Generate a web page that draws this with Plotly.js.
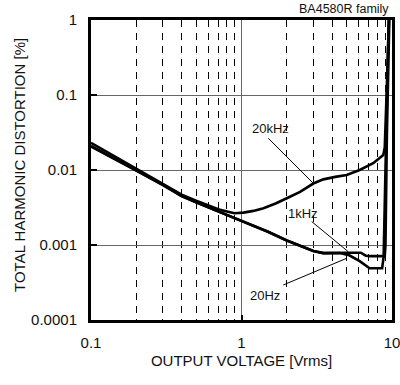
<!DOCTYPE html>
<html>
<head>
<meta charset="utf-8">
<script src="https://cdn.plot.ly/plotly-3.0.1.min.js"></script>
<style>html,body{margin:0;padding:0;background:#fff}#chart{width:400px;height:385px}</style>
</head>
<body>
<div id="chart"></div>
<script>
// Output voltage [Vrms] and THD [%]
const x20k = [0.1, 0.15, 0.2, 0.3, 0.4, 0.5, 0.7, 0.8, 0.9, 1.03, 1.2, 1.4, 1.7, 2.0, 2.45, 3.0, 3.5, 4.2, 5.0, 6.1, 7.5, 8.75, 8.95, 9.2, 9.55];
const y20k = [0.023, 0.0145, 0.0103, 0.0066, 0.0047, 0.0039, 0.0030, 0.0028, 0.00265, 0.0027, 0.00285, 0.0031, 0.0036, 0.0042, 0.0051, 0.0066, 0.0075, 0.0081, 0.0086, 0.010, 0.0123, 0.0158, 0.02, 0.1, 1];

const x1k = [0.1, 0.15, 0.2, 0.3, 0.4, 0.5, 0.7, 1.0, 1.5, 2.0, 2.5, 3.0, 3.5, 4.2, 5.0, 6.2, 6.7, 7.2, 8.95, 9.05, 9.25, 9.6];
const y1k = [0.021, 0.0137, 0.0099, 0.0064, 0.0045, 0.0037, 0.0028, 0.0021, 0.0015, 0.00115, 0.00095, 0.00083, 0.00078, 0.00079, 0.00079, 0.00079, 0.00072, 0.00071, 0.00071, 0.001, 0.03, 1];

const x20 = [0.1, 0.15, 0.2, 0.3, 0.4, 0.5, 0.7, 1.0, 1.5, 2.0, 2.5, 3.0, 3.5, 4.5, 5.2, 6.1, 7.1, 8.6, 8.8, 9.1, 9.5];
const y20 = [0.0205, 0.0135, 0.0098, 0.0063, 0.0045, 0.0037, 0.0028, 0.0021, 0.0015, 0.00115, 0.00095, 0.00083, 0.00078, 0.00078, 0.00073, 0.00061, 0.00049, 0.00049, 0.0007, 0.02, 1];

// leader lines for labels
const lead20kX = [1.507, 3.0], lead20kY = [0.0265, 0.00665];
const lead1kX = [2.93, 5.12], lead1kY = [0.00205, 0.000814];
const lead20X = [1.895, 5.0], lead20Y = [0.000293, 0.000665];

const labelText = ["20kHz", "1kHz", "20Hz"];
const labelX = [1.566, 2.56, 1.432];
const labelY = [0.0363, 0.00267, 0.000215];

const xTickVals = [0.1, 1, 10];
const xTickText = ["0.1", "1", "10"];
const yTickVals = [0.0001, 0.001, 0.01, 0.1, 1];
const yTickText = ["0.0001", "0.001", "0.01", "0.1", "1"];
const xMinorVals = [0.2, 0.3, 0.4, 0.5, 0.6, 0.7, 0.8, 0.9, 2, 3, 4, 5, 6, 7, 8, 9];

const FONT = "Liberation Sans, Arial, sans-serif";
const curve = (x, y, name) => ({x, y, name, type: "scatter", mode: "lines",
  line: {color: "#000", width: 2.6}, hoverinfo: "skip", showlegend: false});
const lead = (x, y) => ({x, y, type: "scatter", mode: "lines",
  line: {color: "#000", width: 1}, hoverinfo: "skip", showlegend: false});

const data = [
  curve(x20, y20, "20Hz"), curve(x1k, y1k, "1kHz"), curve(x20k, y20k, "20kHz"),
  lead(lead20kX, lead20kY), lead(lead1kX, lead1kY), lead(lead20X, lead20Y)
];

const annotations = labelText.map((t, i) => ({
  text: t, x: Math.log10(labelX[i]), y: Math.log10(labelY[i]), xref: "x", yref: "y",
  showarrow: false, font: {family: FONT, size: 13, color: "#111"}
}));
annotations.push({text: "BA4580R family", xref: "paper", yref: "paper",
  x: 0.9934, y: 1.0383, xanchor: "right", yanchor: "middle", borderpad: 0, showarrow: false,
  font: {family: FONT, size: 12.5, color: "#111"}});
annotations.push({text: "TOTAL HARMONIC DISTORTION [%]", xref: "paper", yref: "paper",
  x: -0.2359, y: 0.5167, xanchor: "center", yanchor: "middle", textangle: -90, showarrow: false,
  font: {family: FONT, size: 15, color: "#111"}});

const layout = {
  width: 400, height: 385,
  margin: {l: 91, r: 8, t: 20, b: 65},
  paper_bgcolor: "#fff", plot_bgcolor: "#fff",
  font: {family: FONT, color: "#111"},
  showlegend: false,
  xaxis: {
    type: "log", range: [-1, 1], autorange: false,
    tickvals: xTickVals, ticktext: xTickText,
    tickfont: {size: 15, family: FONT, color: "#111"},
    ticks: "inside", ticklen: 5, tickwidth: 2, tickcolor: "#000",
    ticklabelstandoff: 7, ticklabeloverflow: "allow",
    showgrid: true, gridcolor: "#666", gridwidth: 1,
    minor: {tickvals: xMinorVals, showgrid: true, gridcolor: "#000", gridwidth: 1, griddash: "7px,6px", ticks: ""},
    showline: true, linecolor: "#000", linewidth: 3, mirror: true,
    zeroline: false,
    title: {text: "OUTPUT VOLTAGE [Vrms]", font: {size: 15, family: FONT, color: "#111"}, standoff: 6}
  },
  yaxis: {
    type: "log", range: [-4, 0], autorange: false,
    tickvals: yTickVals, ticktext: yTickText,
    tickfont: {size: 15, family: FONT, color: "#111"},
    ticks: "inside", ticklen: 6, tickwidth: 2, tickcolor: "#000",
    ticklabelstandoff: 8,
    showgrid: true, gridcolor: "#666", gridwidth: 1,
    showline: true, linecolor: "#000", linewidth: 3, mirror: true,
    zeroline: false
  },
  annotations
};

Plotly.newPlot("chart", data, layout, {staticPlot: true, displayModeBar: false});
</script>
</body>
</html>
